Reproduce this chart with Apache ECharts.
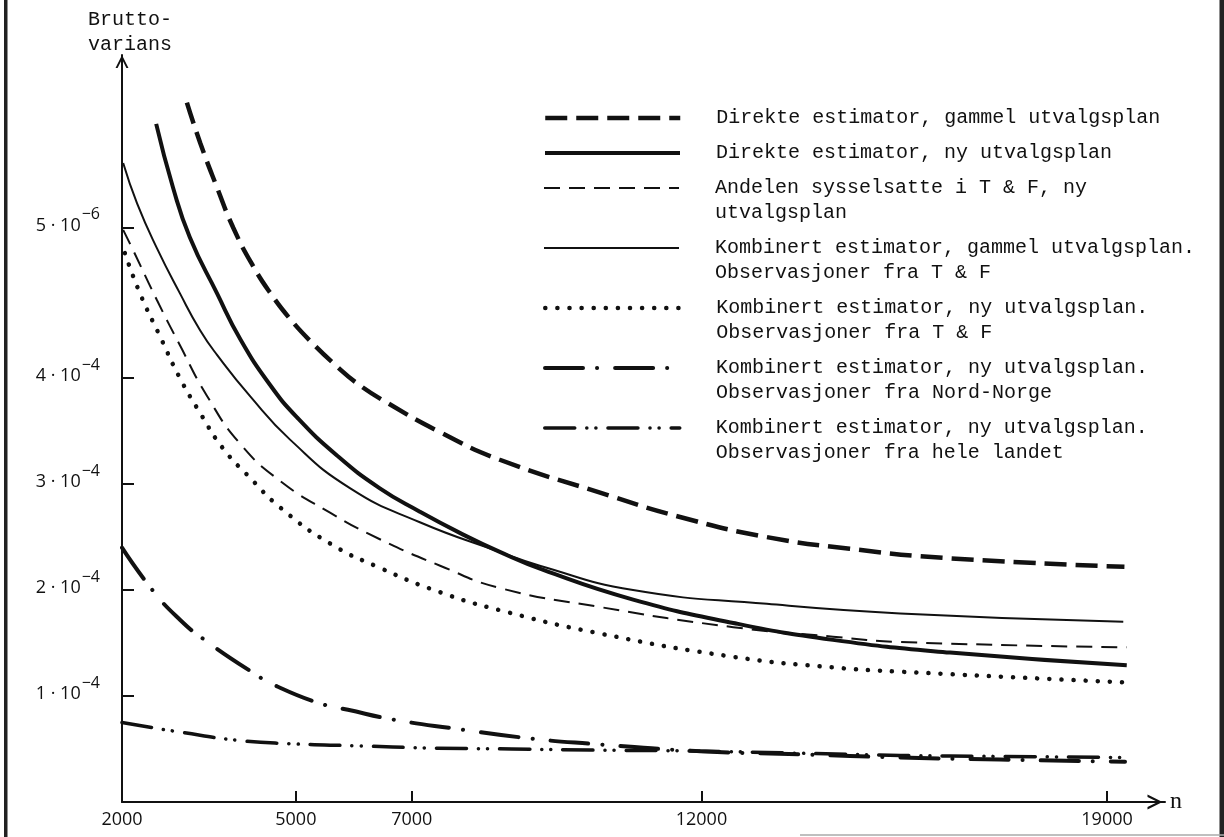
<!DOCTYPE html>
<html><head><meta charset="utf-8">
<script src="https://cdn.jsdelivr.net/npm/echarts@6/dist/echarts.min.js"></script>
<style>html,body{margin:0;padding:0;background:#fff}#c{width:1224px;height:837px}</style>
</head><body><div id="c"></div>
<script>
// ---------- data (n = sample size, v = variance in units of 1e-4) ----------
const nDirekteGammel = [3120,3350,3640,3920,4260,4590,4900,5250,5710,6060,6570,7490,8520,10250,11630,13130,14560,16290,19300];
const vDirekteGammel = [6.60,6.22,5.80,5.42,5.06,4.78,4.56,4.35,4.11,3.95,3.77,3.49,3.23,2.92,2.69,2.50,2.39,2.30,2.22];

const nDirekteNy = [2590,2880,3170,3640,4040,4550,5020,5710,6450,7140,7830,8520,9270,10820,12550,14270,16290,19340];
const vDirekteNy = [6.40,5.80,5.33,4.80,4.37,3.94,3.63,3.27,2.96,2.74,2.54,2.36,2.19,1.91,1.69,1.53,1.41,1.29];

const nAndelen = [2020,2190,2600,3000,3470,4040,4730,5590,6450,7490,8520,10250,12550,14270,15430,19340];
const vAndelen = [5.40,5.21,4.74,4.31,3.83,3.38,3.03,2.73,2.48,2.23,2.02,1.84,1.65,1.56,1.51,1.46];

const nKombGammel = [2020,2260,2600,3000,3350,3640,4210,4900,5940,7140,8520,9210,10820,13130,15430,19280];
const vKombGammel = [6.03,5.65,5.23,4.80,4.45,4.22,3.83,3.42,2.96,2.64,2.36,2.23,2.00,1.87,1.78,1.70];

const nKombNyTF = [2050,2310,2660,3000,3350,3740,4210,4730,5590,6450,7490,8520,10250,12550,14270,15430,19260];
const vKombNyTF = [5.18,4.80,4.39,4.00,3.67,3.34,3.06,2.78,2.44,2.21,1.98,1.81,1.59,1.37,1.27,1.23,1.13];

const nKombNyNord = [2000,2540,3000,3400,4260,4680,5420,5900,6660,7780,9040,10080,11980,13700,15430,17150,19310];
const vKombNyNord = [2.40,1.99,1.72,1.54,1.22,1.09,0.93,0.87,0.78,0.69,0.60,0.55,0.48,0.45,0.42,0.40,0.38];

const nKombNyHele = [2000,3000,4040,4900,6060,7280,8730,10080,11980,13700,15430,17150,19310];
const vKombNyHele = [0.75,0.66,0.58,0.55,0.53,0.51,0.50,0.49,0.48,0.46,0.44,0.43,0.42];

const seriesNames = [
  'Direkte estimator, gammel utvalgsplan',
  'Direkte estimator, ny utvalgsplan',
  'Andelen sysselsatte i T & F, ny\nutvalgsplan',
  'Kombinert estimator, gammel utvalgsplan.\nObservasjoner fra T & F',
  'Kombinert estimator, ny utvalgsplan.\nObservasjoner fra T & F',
  'Kombinert estimator, ny utvalgsplan.\nObservasjoner fra Nord-Norge',
  'Kombinert estimator, ny utvalgsplan.\nObservasjoner fra hele landet'
];

const xTicks = [2000, 5000, 7000, 12000, 19000];
const yTickValues = [1, 2, 3, 4, 5.42];
const yTickMantissa = ['1', '2', '3', '4', '5'];
const yTickExponent = ['4', '4', '4', '4', '6'];

// ---------- styles ----------
const INK = '#111';
const lineStyles = [
  {width: 4.5, type: [22, 9], cap: 'butt'},
  {width: 4, type: 'solid'},
  {width: 2, type: [16, 9], cap: 'butt'},
  {width: 2, type: 'solid'},
  {width: 4.5, type: [0.1, 12], cap: 'round'},
  {width: 4, type: [38, 14, 0.1, 18], cap: 'round'},
  {width: 3.5, type: [30, 12, 0.1, 9, 0.1, 12], cap: 'round'}
];
const legendTops = [105.5, 140.5, 150.5, 210.5, 270.5, 330.5, 390.5];

const xs = [nDirekteGammel, nDirekteNy, nAndelen, nKombGammel, nKombNyTF, nKombNyNord, nKombNyHele];
const vs = [vDirekteGammel, vDirekteNy, vAndelen, vKombGammel, vKombNyTF, vKombNyNord, vKombNyHele];

const chevron = 'path://M0,10 L5,0 L10,10 L8.4,10 L5,3.2 L1.6,10 Z';
const mono = 'Liberation Mono';
const sans = 'Open Sans';

const series = seriesNames.map((name, i) => ({
  name, type: 'line', symbol: 'none', smooth: 0.5,
  itemStyle: {color: INK},
  lineStyle: Object.assign({color: INK}, lineStyles[i]),
  data: xs[i].map((n, k) => [n, vs[i][k]]),
  z: 3
}));

const legends = seriesNames.map((name, i) => {
  const two = name.indexOf('\n') >= 0;
  return {
    show: true, data: [name], orient: 'vertical', left: 543, top: legendTops[i],
    padding: 0, itemWidth: 135, itemHeight: 14, selectedMode: false,
    formatter: n => (two ? '\n' + n : n),
    itemStyle: {opacity: 0, borderWidth: 0},
    lineStyle: {width: lineStyles[i].width},
    textStyle: {fontFamily: mono, fontSize: 20, color: INK, lineHeight: 25, padding: [0, 0, 0, 31]}
  };
});

const chart = echarts.init(document.getElementById('c'), null, {renderer: 'canvas'});
chart.setOption({
  animation: false,
  backgroundColor: '#fff',
  grid: {left: 122, right: 59, top: 55, bottom: 35, containLabel: false},
  legend: legends,
  xAxis: {
    type: 'value', min: 2000, max: 20000,
    name: 'n', nameLocation: 'end', nameGap: 5,
    nameTextStyle: {fontFamily: 'Liberation Serif', fontSize: 24, color: INK, verticalAlign: 'middle', padding: [0,0,4,0]},
    axisLine: {show: true, lineStyle: {color: INK, width: 2}, symbol: ['none', chevron], symbolSize: [15, 20], symbolOffset: [0, -10]},
    axisTick: {show: true, inside: true, length: 11, customValues: xTicks, lineStyle: {color: INK, width: 2}},
    axisLabel: {customValues: xTicks, margin: 9, fontFamily: sans, fontSize: 18, color: INK, formatter: v => String(v)},
    splitLine: {show: false}
  },
  yAxis: {
    type: 'value', min: 0, max: 7.05,
    name: 'Brutto-\nvarians', nameLocation: 'end', nameGap: -2,
    nameTextStyle: {fontFamily: mono, fontSize: 20, lineHeight: 25, color: INK, align: 'center', padding: [0, 0, 0, 16]},
    axisLine: {show: true, lineStyle: {color: INK, width: 2}, symbol: ['none', chevron], symbolSize: [19, 13], symbolOffset: [0, -6.5]},
    axisTick: {show: true, inside: true, length: 12, customValues: yTickValues, lineStyle: {color: INK, width: 2}},
    axisLabel: {
      customValues: yTickValues, margin: 22, padding: [0, 0, 8, 0],
      formatter: function (val) {
        let i = 0, best = 1e9;
        yTickValues.forEach((t, k) => { if (Math.abs(t - val) < best) { best = Math.abs(t - val); i = k; } });
        return '{m|' + yTickMantissa[i] + ' · 10}{s|\u2212' + yTickExponent[i] + '}';
      },
      rich: {
        m: {fontFamily: sans, fontSize: 18, color: INK, verticalAlign: 'bottom', lineHeight: 22},
        s: {fontFamily: sans, fontSize: 16, color: INK, verticalAlign: 'bottom', lineHeight: 18, padding: [0, 0, 12, 1]}
      }
    },
    splitLine: {show: false}
  },
  graphic: [
    {type: 'rect', silent: true, shape: {x: 4, y: 0, width: 3.5, height: 837}, style: {fill: '#222'}},
    {type: 'rect', silent: true, shape: {x: 1219.5, y: 0, width: 4.5, height: 837}, style: {fill: '#222'}},
    {type: 'line', silent: true, shape: {x1: 800, y1: 835, x2: 1224, y2: 835}, style: {stroke: '#aaa', lineWidth: 1.5}}
  ],
  series
});
</script>
</body></html>
